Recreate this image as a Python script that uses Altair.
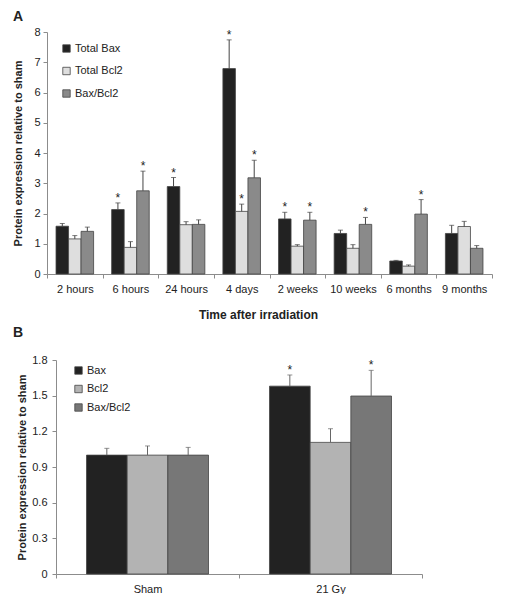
import altair as alt
import pandas as pd

# ---------- Panel A data ----------
times = ["2 hours", "6 hours", "24 hours", "4 days", "2 weeks", "10 weeks", "6 months", "9 months"]
series_a = ["Total Bax", "Total Bcl2", "Bax/Bcl2"]
bax_a = [1.58, 2.13, 2.89, 6.79, 1.82, 1.34, 0.43, 1.34]
bax_a_err = [1.67, 2.35, 3.19, 7.74, 2.04, 1.45, 0.45, 1.61]
bax_a_sig = [False, True, True, True, True, False, False, False]
bcl2_a = [1.16, 0.88, 1.63, 2.07, 0.92, 0.85, 0.26, 1.57]
bcl2_a_err = [1.27, 1.07, 1.73, 2.31, 0.97, 0.97, 0.30, 1.74]
bcl2_a_sig = [False, False, False, True, False, False, False, False]
ratio_a = [1.41, 2.75, 1.64, 3.18, 1.78, 1.64, 1.98, 0.85]
ratio_a_err = [1.55, 3.40, 1.79, 3.76, 2.04, 1.87, 2.46, 0.94]
ratio_a_sig = [False, True, False, True, True, True, True, False]
colors_a = ["#222222", "#dedede", "#8a8a8a"]
yticks_a = [0, 1, 2, 3, 4, 5, 6, 7, 8]

# ---------- Panel B data ----------
groups_b = ["Sham", "21 Gy"]
series_b = ["Bax", "Bcl2", "Bax/Bcl2"]
bax_b = [1.00, 1.58]
bax_b_err = [1.057, 1.674]
bax_b_sig = [False, True]
bcl2_b = [1.00, 1.107]
bcl2_b_err = [1.077, 1.222]
bcl2_b_sig = [False, False]
ratio_b = [1.00, 1.497]
ratio_b_err = [1.065, 1.713]
ratio_b_sig = [False, True]
colors_b = ["#222222", "#b3b3b3", "#777777"]
yticks_b = [0, 0.3, 0.6, 0.9, 1.2, 1.5, 1.8]

FONT = "Liberation Sans"
YTITLE = "Protein expression relative to sham"


def build(cats, names, vals, errs, sigs):
    rows = []
    for name, v, e, s in zip(names, vals, errs, sigs):
        for c, vv, ee, ss in zip(cats, v, e, s):
            rows.append({"cat": c, "series": name, "value": vv, "err": ee,
                         "star": "*" if ss else ""})
    return pd.DataFrame(rows)


df_a = build(times, series_a, [bax_a, bcl2_a, ratio_a],
             [bax_a_err, bcl2_a_err, ratio_a_err], [bax_a_sig, bcl2_a_sig, ratio_a_sig])
df_b = build(groups_b, series_b, [bax_b, bcl2_b, ratio_b],
             [bax_b_err, bcl2_b_err, ratio_b_err], [bax_b_sig, bcl2_b_sig, ratio_b_sig])


def panel(df, cats, names, colors, width, height, ydom, yvals, yfmt,
          label, xtitle, legend_x, legend_y, row_pad, title_pad, lab_pad,
          err_color, title_offset, pad_outer, xtitle_x, x_shift):
    xaxis_kw = dict(title=xtitle, labelAngle=0, tickBand="extent",
                    domainColor="#8c8c8c", tickColor="#8c8c8c",
                    tickSize=4, labelPadding=5, labelFontSize=11,
                    labelColor="#222", labelFont=FONT,
                    titleFont=FONT, titleFontSize=12, titleFontWeight="bold",
                    titleColor="#222", titlePadding=15)
    if xtitle_x is not None:
        xaxis_kw["titleX"] = xtitle_x
    xaxis = alt.Axis(**xaxis_kw)
    yaxis_kw = dict(title=YTITLE, values=yvals, format=yfmt, grid=False,
                    domainColor="#8c8c8c", tickColor="#8c8c8c",
                    tickSize=4, labelPadding=lab_pad, labelFontSize=11,
                    labelColor="#222", labelFont=FONT,
                    titleFont=FONT, titleFontSize=11, titleFontWeight="bold",
                    titleColor="#222", titlePadding=title_pad)
    if x_shift:
        yaxis_kw["offset"] = -x_shift
    yaxis = alt.Axis(**yaxis_kw)
    yscale = alt.Scale(domain=ydom, nice=False)
    xscale_kw = dict(paddingInner=0, paddingOuter=0)
    if x_shift:
        xscale_kw["range"] = [x_shift, width]
    x = alt.X("cat:N", sort=cats, title=xtitle,
              scale=alt.Scale(**xscale_kw), axis=xaxis)
    xo = alt.XOffset("series:N", sort=names,
                     scale=alt.Scale(paddingInner=0, paddingOuter=pad_outer))
    color = alt.Color("series:N", sort=names,
                      scale=alt.Scale(domain=names, range=colors),
                      legend=alt.Legend(title=None, orient="none",
                                        legendX=legend_x, legendY=legend_y,
                                        symbolType="square", symbolSize=55,
                                        symbolStrokeColor="#444",
                                        symbolStrokeWidth=0.8,
                                        labelFont=FONT, labelFontSize=11,
                                        labelColor="#222", rowPadding=row_pad,
                                        labelOffset=3))
    bars = alt.Chart(df).mark_bar(stroke="#444444", strokeWidth=0.8).encode(
        x=x, xOffset=xo,
        y=alt.Y("value:Q", title=YTITLE, scale=yscale, axis=yaxis),
        color=color)
    rules = alt.Chart(df).mark_rule(color=err_color, strokeWidth=1).encode(
        x=x, xOffset=xo,
        y=alt.Y("value:Q", title=YTITLE, scale=yscale, axis=yaxis), y2="err:Q")
    caps = alt.Chart(df).mark_tick(color=err_color, thickness=1, size=5,
                                   orient="horizontal").encode(
        x=x, xOffset=xo,
        y=alt.Y("err:Q", title=YTITLE, scale=yscale, axis=yaxis))
    stars = alt.Chart(df).mark_text(font=FONT, fontSize=12, color="#222",
                                    baseline="alphabetic", dy=-1).encode(
        x=x, xOffset=xo,
        y=alt.Y("err:Q", title=YTITLE, scale=yscale, axis=yaxis), text="star:N")
    return alt.layer(bars, rules, caps, stars).properties(
        width=width, height=height,
        title=alt.TitleParams(label, anchor="start", frame="group", dx=-34,
                              font=FONT, fontSize=14, fontWeight="bold",
                              color="#222", offset=title_offset))


chart_a = panel(df_a, times, series_a, colors_a, 445, 242, [0, 8],
                yticks_a, "d", "A",
                "Time after irradiation", 14, 11, 10.5, 10, 3, "#444", 2, 0.72, 211, 0)
chart_b = panel(df_b, groups_b, series_b, colors_b, 375, 214, [0, 1.8],
                yticks_b, "~g", "B", None, 26, 5, 6.5, 4, 5, "#666", 14, 0.75, None, 9)

chart = alt.vconcat(chart_a, chart_b, spacing=6).resolve_scale(
    color="independent", xOffset="independent", x="independent", y="independent"
).properties(
    padding={"left": 4, "top": 2, "right": 0, "bottom": 0}
).configure_view(stroke=None)

chart.save("out.html", embed_options={"renderer": "svg", "actions": False})
